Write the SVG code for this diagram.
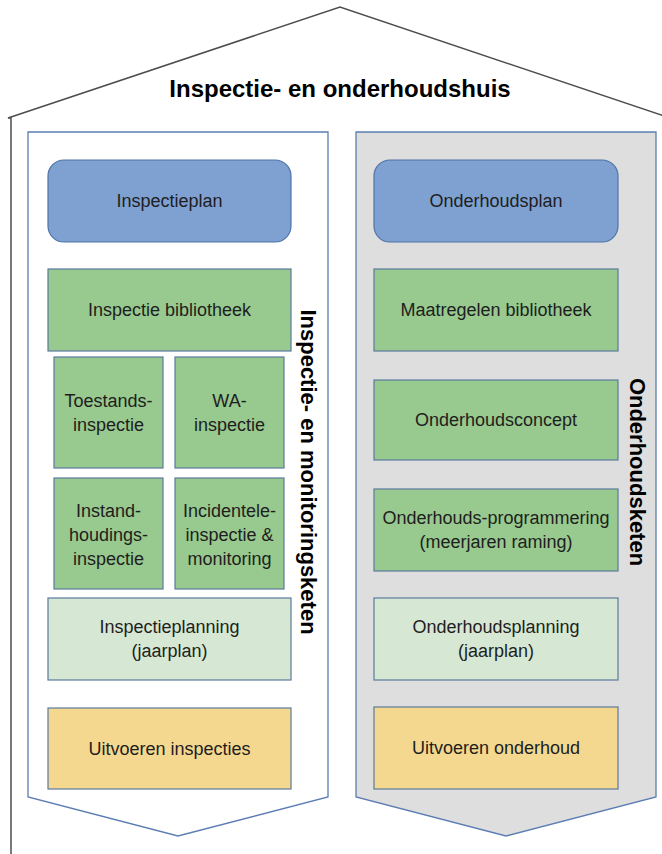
<svg xmlns="http://www.w3.org/2000/svg" width="662" height="854" viewBox="0 0 662 854">
  <style>
    .house { fill: none; stroke: #4d4d4d; stroke-width: 1.5; }
    .lane { stroke: #5b7db3; stroke-width: 1.3; }
    .lane-a { fill: #ffffff; }
    .lane-b { fill: #dedede; }
    .box { stroke: #5a7a9c; stroke-width: 1.2; }
    .plan { fill: #7fa1d1; stroke: #4f73a6; }
    .lib { fill: #98c98e; }
    .sched { fill: #d6e8d3; }
    .exec { fill: #f5d88f; }
    .lbl { font-family: "Liberation Sans", Arial, sans-serif; font-size: 18px; fill: #1e1e1e; text-anchor: middle; }
    .title { font-family: "Liberation Sans", Arial, sans-serif; font-size: 24px; font-weight: bold; fill: #000; text-anchor: middle; }
    .side { font-family: "Liberation Sans", Arial, sans-serif; font-size: 22px; font-weight: bold; fill: #000; text-anchor: middle; }
  </style>

  <rect width="662" height="854" fill="#ffffff"/>

  <!-- house outline: wall and roof -->
  <g id="house">
    <path class="house" d="M 11 854 V 118 L 8 118 L 340 7 L 664 116"/>
    <text class="title" x="340" y="97">Inspectie- en onderhoudshuis</text>
  </g>

  <!-- left chain -->
  <g id="lane-inspectie">
    <polygon class="lane lane-a" points="28,132 328,132 328,797 178,836 28,797"/>
    <text class="side" transform="translate(301,472) rotate(90)">Inspectie- en monitoringsketen</text>
  </g>

  <!-- right chain -->
  <g id="lane-onderhoud">
    <polygon class="lane lane-b" points="356,132 656,132 656,797 506,836 356,797"/>
    <text class="side" transform="translate(630,472) rotate(90)">Onderhoudsketen</text>
  </g>

  <g id="inspectieplan">
    <rect class="box plan" x="48" y="160" width="243" height="82" rx="16"/>
    <text class="lbl" x="169.5" y="207">Inspectieplan</text>
  </g>
  <g id="inspectie-bibliotheek">
    <rect class="box lib" x="48" y="269" width="243" height="82"/>
    <text class="lbl" x="169.5" y="316">Inspectie bibliotheek</text>
  </g>
  <g id="toestandsinspectie">
    <rect class="box lib" x="54" y="357" width="109" height="111"/>
    <text class="lbl" x="108.5" y="407">Toestands-</text>
    <text class="lbl" x="108.5" y="431">inspectie</text>
  </g>
  <g id="wa-inspectie">
    <rect class="box lib" x="175" y="357" width="109" height="111"/>
    <text class="lbl" x="229.5" y="407">WA-</text>
    <text class="lbl" x="229.5" y="431">inspectie</text>
  </g>
  <g id="instandhoudingsinspectie">
    <rect class="box lib" x="54" y="478" width="109" height="111"/>
    <text class="lbl" x="108.5" y="517">Instand-</text>
    <text class="lbl" x="108.5" y="541">houdings-</text>
    <text class="lbl" x="108.5" y="565">inspectie</text>
  </g>
  <g id="incidentele-inspectie">
    <rect class="box lib" x="175" y="478" width="109" height="111"/>
    <text class="lbl" x="229.5" y="517">Incidentele-</text>
    <text class="lbl" x="229.5" y="541">inspectie &amp;</text>
    <text class="lbl" x="229.5" y="565">monitoring</text>
  </g>
  <g id="inspectieplanning">
    <rect class="box sched" x="48" y="598" width="243" height="82"/>
    <text class="lbl" x="169.5" y="633">Inspectieplanning</text>
    <text class="lbl" x="169.5" y="657">(jaarplan)</text>
  </g>
  <g id="uitvoeren-inspecties">
    <rect class="box exec" x="48" y="708" width="243" height="81"/>
    <text class="lbl" x="169.5" y="755">Uitvoeren inspecties</text>
  </g>

  <g id="onderhoudsplan">
    <rect class="box plan" x="374" y="160" width="244" height="82" rx="16"/>
    <text class="lbl" x="496" y="207">Onderhoudsplan</text>
  </g>
  <g id="maatregelen-bibliotheek">
    <rect class="box lib" x="374" y="269" width="244" height="82"/>
    <text class="lbl" x="496" y="316">Maatregelen bibliotheek</text>
  </g>
  <g id="onderhoudsconcept">
    <rect class="box lib" x="374" y="380" width="244" height="80"/>
    <text class="lbl" x="496" y="426">Onderhoudsconcept</text>
  </g>
  <g id="onderhoudsprogrammering">
    <rect class="box lib" x="374" y="489" width="244" height="82"/>
    <text class="lbl" x="496" y="524">Onderhouds-programmering</text>
    <text class="lbl" x="496" y="548">(meerjaren raming)</text>
  </g>
  <g id="onderhoudsplanning">
    <rect class="box sched" x="374" y="598" width="244" height="82"/>
    <text class="lbl" x="496" y="633">Onderhoudsplanning</text>
    <text class="lbl" x="496" y="657">(jaarplan)</text>
  </g>
  <g id="uitvoeren-onderhoud">
    <rect class="box exec" x="374" y="707" width="244" height="82"/>
    <text class="lbl" x="496" y="754">Uitvoeren onderhoud</text>
  </g>

  <g id="connectors"/>
</svg>
